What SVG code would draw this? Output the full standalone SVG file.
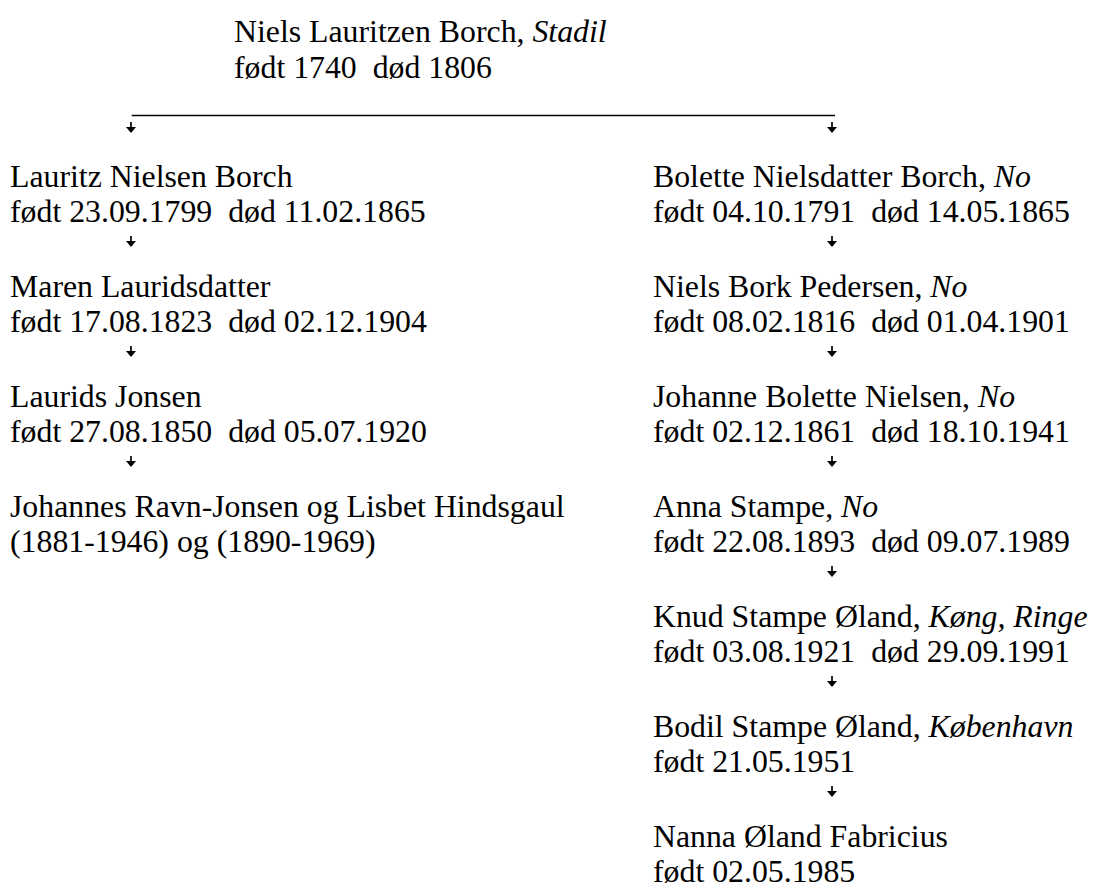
<svg xmlns="http://www.w3.org/2000/svg" width="1093" height="888" viewBox="0 0 1093 888" xml:space="preserve">
<defs>
<style>
text { font-family: "Liberation Serif", serif; font-size: 31.8px; fill: #000; white-space: pre; }
.it { font-style: italic; }
.stem { stroke: #000; stroke-width: 1.7; fill: none; }
.rule { stroke: #000; stroke-width: 1.4; fill: none; }
</style>
<marker id="ah" viewBox="0 0 6 10" refX="0" refY="5" markerWidth="6.5" markerHeight="10" markerUnits="userSpaceOnUse" orient="auto">
<path d="M0,0 L6,5 L0,10 Z" fill="#000"/>
</marker>
</defs>
<rect width="1093" height="888" fill="#fff"/>

<g id="connectors">
<line class="rule" x1="131.7" y1="115.5" x2="835" y2="115.5"/>
<line class="stem" x1="131" y1="122" x2="131" y2="127" marker-end="url(#ah)"/>
<line class="stem" x1="832" y1="122" x2="832" y2="127" marker-end="url(#ah)"/>
<line class="stem" x1="131" y1="236" x2="131" y2="241" marker-end="url(#ah)"/>
<line class="stem" x1="131" y1="346" x2="131" y2="351" marker-end="url(#ah)"/>
<line class="stem" x1="131" y1="456" x2="131" y2="461" marker-end="url(#ah)"/>
<line class="stem" x1="832" y1="236" x2="832" y2="241" marker-end="url(#ah)"/>
<line class="stem" x1="832" y1="346" x2="832" y2="351" marker-end="url(#ah)"/>
<line class="stem" x1="832" y1="456" x2="832" y2="461" marker-end="url(#ah)"/>
<line class="stem" x1="832" y1="566" x2="832" y2="571" marker-end="url(#ah)"/>
<line class="stem" x1="832" y1="676" x2="832" y2="681" marker-end="url(#ah)"/>
<line class="stem" x1="832" y1="786" x2="832" y2="791" marker-end="url(#ah)"/>
</g>

<g font-family="Liberation Serif, serif">
<g id="niels-lauritzen-borch">
<text x="234" y="41.5">Niels Lauritzen Borch, <tspan class="it">Stadil</tspan></text>
<text x="234" y="78">født 1740  død 1806</text>
</g>

<g id="lauritz-nielsen-borch">
<text x="10" y="187">Lauritz Nielsen Borch</text>
<text x="10" y="222">født 23.09.1799  død 11.02.1865</text>
</g>
<g id="maren-lauridsdatter">
<text x="10" y="297">Maren Lauridsdatter</text>
<text x="10" y="332">født 17.08.1823  død 02.12.1904</text>
</g>
<g id="laurids-jonsen">
<text x="10" y="407">Laurids Jonsen</text>
<text x="10" y="442">født 27.08.1850  død 05.07.1920</text>
</g>
<g id="johannes-lisbet">
<text x="10" y="517">Johannes Ravn-Jonsen og Lisbet Hindsgaul</text>
<text x="10" y="552">(1881-1946) og (1890-1969)</text>
</g>

<g id="bolette-nielsdatter-borch">
<text x="653" y="187">Bolette Nielsdatter Borch, <tspan class="it">No</tspan></text>
<text x="653" y="222">født 04.10.1791  død 14.05.1865</text>
</g>
<g id="niels-bork-pedersen">
<text x="653" y="297">Niels Bork Pedersen, <tspan class="it">No</tspan></text>
<text x="653" y="332">født 08.02.1816  død 01.04.1901</text>
</g>
<g id="johanne-bolette-nielsen">
<text x="653" y="407">Johanne Bolette Nielsen, <tspan class="it">No</tspan></text>
<text x="653" y="442">født 02.12.1861  død 18.10.1941</text>
</g>
<g id="anna-stampe">
<text x="653" y="517">Anna Stampe, <tspan class="it">No</tspan></text>
<text x="653" y="552">født 22.08.1893  død 09.07.1989</text>
</g>
<g id="knud-stampe-oland">
<text x="653" y="627">Knud Stampe Øland, <tspan class="it">Køng, Ringe</tspan></text>
<text x="653" y="662">født 03.08.1921  død 29.09.1991</text>
</g>
<g id="bodil-stampe-oland">
<text x="653" y="737">Bodil Stampe Øland, <tspan class="it">København</tspan></text>
<text x="653" y="772">født 21.05.1951</text>
</g>
<g id="nanna-oland-fabricius">
<text x="653" y="847">Nanna Øland Fabricius</text>
<text x="653" y="882">født 02.05.1985</text>
</g>
</g>
</svg>
